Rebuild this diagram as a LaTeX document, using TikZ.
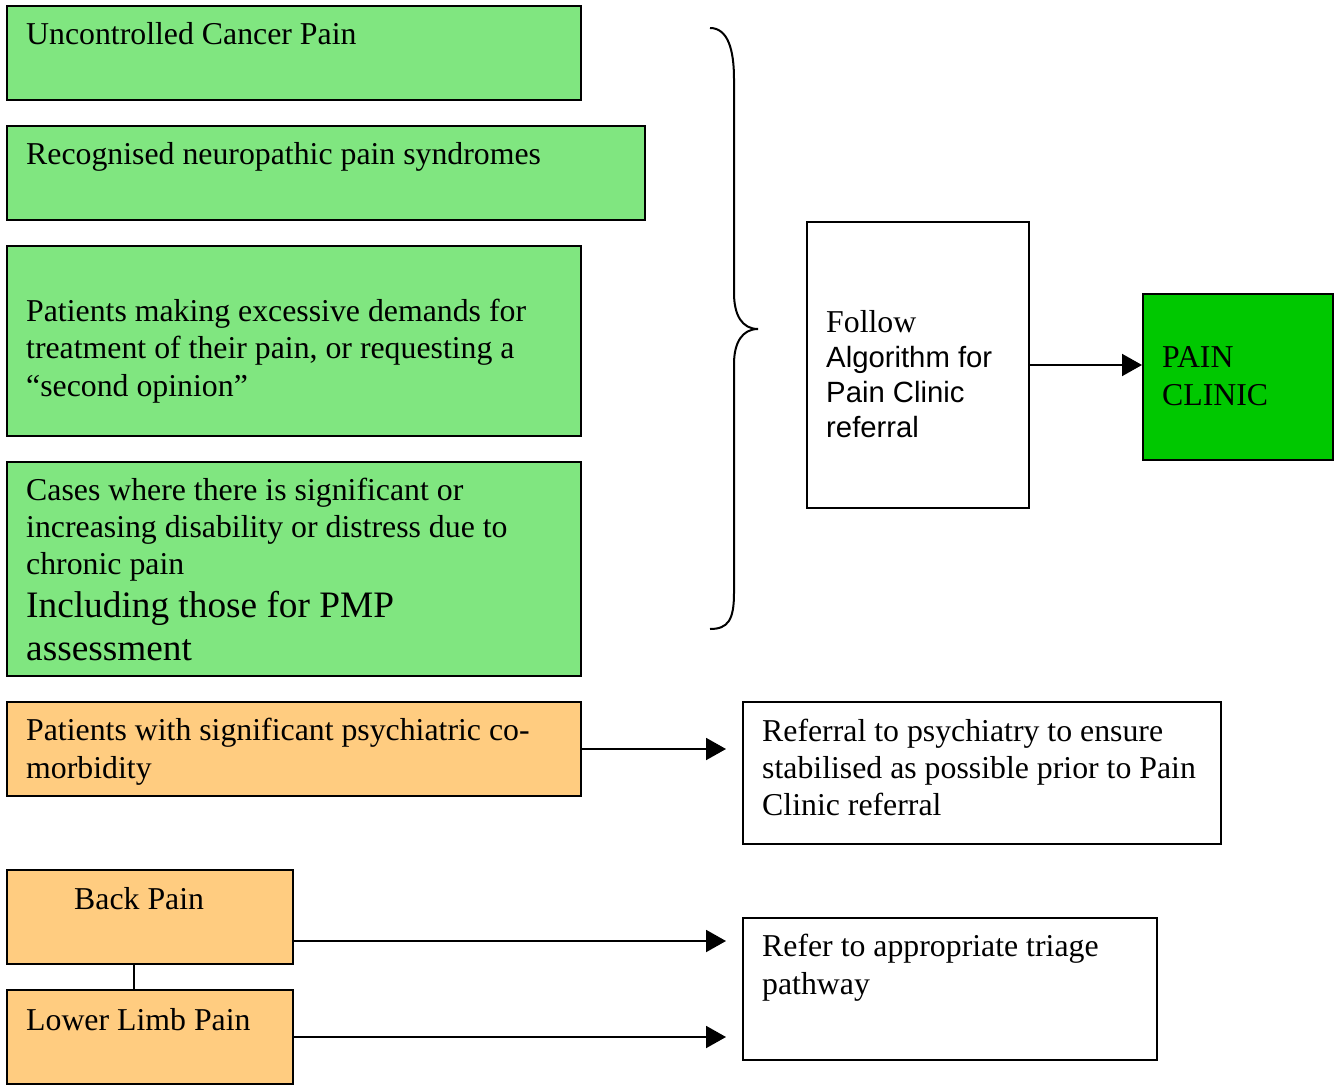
\documentclass[tikz,border=0pt]{standalone}
\usepackage{fontspec}
\setmainfont{Liberation Serif}
\newfontfamily\sansf{Liberation Sans}
\usetikzlibrary{arrows.meta,calc}
\definecolor{lgreen}{RGB}{128,230,128}
\definecolor{lorange}{RGB}{255,204,128}
\definecolor{dgreen}{RGB}{0,200,0}
\newcommand\bodyfont{\fontsize{31.8}{37.3}\selectfont}
\tikzset{
  box/.style={draw=black, line width=2pt, rectangle, anchor=north west, inner sep=0pt},
  gbox/.style={box, fill=lgreen},
  obox/.style={box, fill=lorange},
  wbox/.style={box, fill=white},
  txt/.style={anchor=base west, inner sep=0pt, align=left, font=\bodyfont},
  arr/.style={line width=2pt, -{Triangle[length=20pt,width=22pt]}},
  conn/.style={line width=2pt},
}
\begin{document}
\begin{tikzpicture}[x=1pt,y=-1pt]
\useasboundingbox (0,0) rectangle (1341,1086);
% boxes
\node[gbox, minimum width=574, minimum height=94] (b1) at (6,5) {};
\node[gbox, minimum width=638, minimum height=94] (b2) at (6,125) {};
\node[gbox, minimum width=574, minimum height=190] (b3) at (6,245) {};
\node[gbox, minimum width=574, minimum height=214] (b4) at (6,461) {};
\node[obox, minimum width=574, minimum height=94] (b5) at (6,701) {};
\node[obox, minimum width=286, minimum height=94] (b6) at (6,869) {};
\node[obox, minimum width=286, minimum height=94] (b7) at (6,989) {};
\node[wbox, minimum width=222, minimum height=286] (fb) at (806,221) {};
\node[box, fill=dgreen, minimum width=190, minimum height=166] (pc) at (1142,293) {};
\node[wbox, minimum width=478, minimum height=142] (rp) at (742,701) {};
\node[wbox, minimum width=414, minimum height=142] (rt) at (742,917) {};
% texts (base anchor = baseline of last line)
\node[txt] (t1) at (26,45) {Uncontrolled Cancer Pain};
\node[txt] (t2) at (26,165) {Recognised neuropathic pain syndromes};
\node[txt] (t3) at (26,396) {Patients making excessive demands for\\treatment of their pain, or requesting a\\``second opinion''};
\node[txt, font=\fontsize{31.8}{36.6}\selectfont] (t4) at (26,574) {Cases where there is significant or\\increasing disability or distress due to\\chronic pain};
\node[txt, font=\fontsize{37.3}{43}\selectfont] (t4b) at (26,660) {Including those for PMP\\assessment};
\node[txt] (t5) at (26,778) {Patients with significant psychiatric co-\\morbidity};
\node[txt] (t6) at (74,909) {Back Pain};
\node[txt] (t7) at (26,1030) {Lower Limb Pain};
\node[txt, font=\fontsize{31.8}{34.7}\selectfont] (tf) at (826,437) {Follow\\{\sansf\fontsize{29.3}{34.7}\selectfont Algorithm for}\\{\sansf\fontsize{29.3}{34.7}\selectfont Pain Clinic}\\{\sansf\fontsize{29.3}{34.7}\selectfont referral}};
\node[txt] (tp) at (1162,405) {PAIN\\CLINIC};
\node[txt, font=\fontsize{31.8}{37}\selectfont] (tr) at (762,815) {Referral to psychiatry to ensure\\stabilised as possible prior to Pain\\Clinic referral};
\node[txt] (tt) at (762,994) {Refer to appropriate triage\\pathway};
% brace
\draw[line width=2pt] (710,28) .. controls (728,28) and (734,50) .. (734,79) -- (734,293)
  .. controls (734,315) and (742,329) .. (758,329)
  .. controls (742,329) and (734,343) .. (734,364) -- (734,593)
  .. controls (734,620) and (728,629) .. (710,629);
% connectors
\draw[arr] (fb.east) -- (fb.east -| pc.west);
\coordinate (a5) at ($(b5.east -| rp.west)+(-16,0)$);
\draw[arr] (b5.east) -- (a5);
\coordinate (s6) at ($(b6.south east)!0.25!(b6.north east)$);
\coordinate (a6) at ($(s6 -| rt.west)+(-16,0)$);
\draw[arr] (s6) -- (a6);
\coordinate (a7) at ($(b7.east -| rt.west)+(-16,0)$);
\draw[arr] (b7.east) -- (a7);
\draw[conn] ($(b6.south west)+(128,0)$) -- ($(b7.north west)+(128,0)$);
\end{tikzpicture}
\end{document}
